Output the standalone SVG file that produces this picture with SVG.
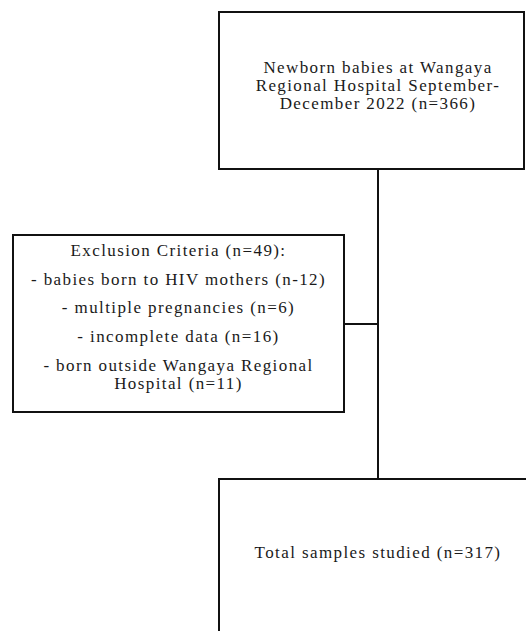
<svg xmlns="http://www.w3.org/2000/svg" width="526" height="631" viewBox="0 0 526 631">
<style>
.box{fill:#fff;stroke:#111;stroke-width:2}
.ln{fill:none;stroke:#111;stroke-width:2}
text{font-family:"Liberation Serif","Times New Roman",serif;font-size:17px;letter-spacing:1.4px;fill:#1a1a1a;text-anchor:middle}
</style>
<rect width="526" height="631" fill="#fff"/>
<g id="connectors">
<path class="ln" d="M378 169 V479"/>
<path class="ln" d="M344 324 H378"/>
</g>
<g id="node-newborn">
<rect class="box" x="219" y="12" width="305" height="157"/>
<text x="378" y="73">Newborn babies at Wangaya</text>
<text x="378" y="91">Regional Hospital September-</text>
<text x="378" y="109">December 2022 (n=366)</text>
</g>
<g id="node-exclusion">
<rect class="box" x="13" y="235" width="331" height="177"/>
<text x="178.5" y="256">Exclusion Criteria (n=49):</text>
<text x="178.5" y="285">- babies born to HIV mothers (n-12)</text>
<text x="178.5" y="313">- multiple pregnancies (n=6)</text>
<text x="178.5" y="342">- incomplete data (n=16)</text>
<text x="178.5" y="371">- born outside Wangaya Regional</text>
<text x="178.5" y="389">Hospital (n=11)</text>
</g>
<g id="node-total">
<rect class="box" x="219" y="479" width="330" height="200"/>
<text x="378" y="558">Total samples studied (n=317)</text>
</g>
</svg>
